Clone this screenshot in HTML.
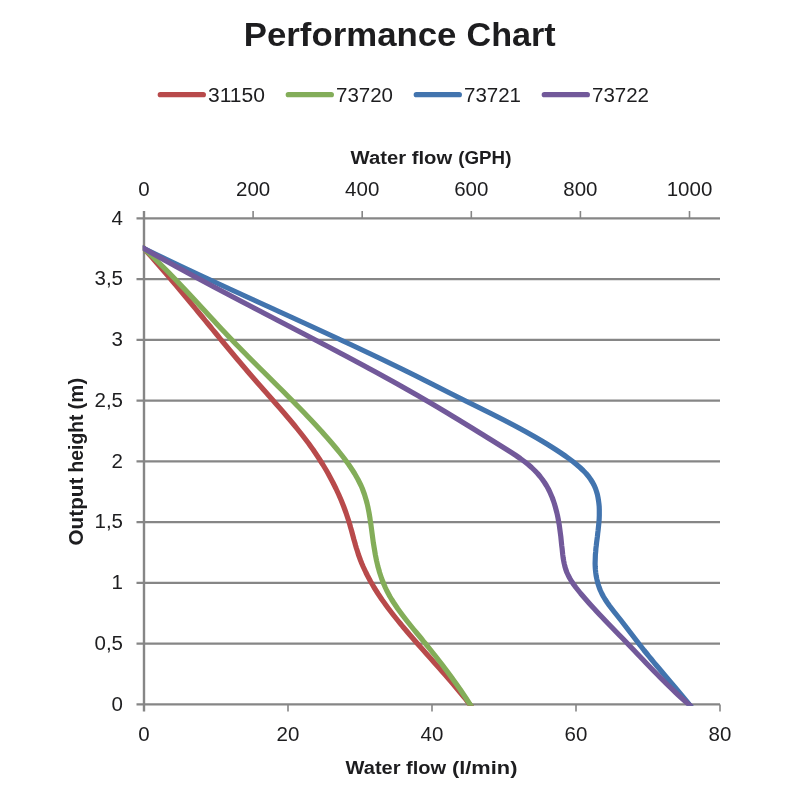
<!DOCTYPE html>
<html><head><meta charset="utf-8"><title>Performance Chart</title>
<style>
html,body{margin:0;padding:0;background:#fff;}
svg{display:block;filter:blur(0.45px);font-family:"Liberation Sans",sans-serif;fill:#1d1d1f;}
.b{font-weight:bold;}
</style></head><body>
<svg width="800" height="800" viewBox="0 0 800 800">
<rect width="800" height="800" fill="#fff"/>
<g stroke="#868686" stroke-width="2.4" fill="none">
<line x1="136.5" y1="218.40" x2="720" y2="218.40"/>
<line x1="136.5" y1="279.15" x2="720" y2="279.15"/>
<line x1="136.5" y1="339.90" x2="720" y2="339.90"/>
<line x1="136.5" y1="400.65" x2="720" y2="400.65"/>
<line x1="136.5" y1="461.40" x2="720" y2="461.40"/>
<line x1="136.5" y1="522.15" x2="720" y2="522.15"/>
<line x1="136.5" y1="582.90" x2="720" y2="582.90"/>
<line x1="136.5" y1="643.65" x2="720" y2="643.65"/>
<line x1="136.5" y1="704.40" x2="720" y2="704.40"/>
<line x1="144" y1="211" x2="144" y2="711.5"/>
</g>
<g stroke="#868686" stroke-width="1.6" fill="none">
<line x1="253.10" y1="211" x2="253.10" y2="218.4"/>
<line x1="362.20" y1="211" x2="362.20" y2="218.4"/>
<line x1="471.30" y1="211" x2="471.30" y2="218.4"/>
<line x1="580.40" y1="211" x2="580.40" y2="218.4"/>
<line x1="689.50" y1="211" x2="689.50" y2="218.4"/>
<line x1="288.00" y1="704.4" x2="288.00" y2="711.5"/>
<line x1="432.00" y1="704.4" x2="432.00" y2="711.5"/>
<line x1="576.00" y1="704.4" x2="576.00" y2="711.5"/>
<line x1="720.00" y1="704.4" x2="720.00" y2="711.5"/>
</g>
<defs><clipPath id="pa"><rect x="142.8" y="200" width="600" height="505.7"/></clipPath></defs>
<g fill="none" stroke-width="5.2" stroke-linecap="butt" stroke-linejoin="round" clip-path="url(#pa)">
<path stroke="#b84a4b" d="M142.0,246.3 L144.0,248.5 L146.7,251.5 L149.4,254.5 L152.1,257.5 L154.7,260.5 L157.3,263.5 L159.9,266.5 L162.5,269.5 L165.1,272.5 L167.7,275.5 L170.3,278.5 L172.8,281.5 L175.4,284.5 L177.9,287.5 L180.4,290.5 L182.9,293.5 L185.4,296.5 L187.9,299.5 L190.4,302.5 L192.9,305.5 L195.3,308.5 L197.8,311.5 L200.3,314.5 L202.8,317.5 L205.2,320.5 L207.7,323.5 L210.2,326.5 L212.6,329.5 L215.1,332.5 L217.6,335.5 L220.0,338.5 L222.5,341.5 L225.0,344.5 L227.5,347.5 L230.0,350.5 L232.5,353.5 L235.0,356.5 L237.5,359.5 L240.1,362.5 L242.6,365.5 L245.2,368.5 L247.7,371.5 L250.3,374.5 L252.9,377.5 L255.5,380.5 L258.1,383.5 L260.8,386.5 L263.4,389.5 L266.1,392.5 L268.7,395.5 L271.4,398.5 L274.0,401.5 L276.6,404.5 L279.3,407.5 L281.9,410.5 L284.5,413.5 L287.0,416.5 L289.6,419.5 L292.1,422.5 L294.6,425.5 L297.0,428.5 L299.4,431.5 L301.8,434.5 L304.1,437.5 L306.4,440.5 L308.7,443.5 L310.8,446.5 L313.0,449.5 L315.0,452.5 L317.0,455.5 L319.0,458.5 L320.9,461.5 L322.8,464.5 L324.6,467.5 L326.4,470.5 L328.1,473.5 L329.7,476.5 L331.3,479.5 L332.9,482.5 L334.4,485.5 L335.9,488.5 L337.3,491.5 L338.7,494.5 L340.0,497.5 L341.3,500.5 L342.5,503.5 L343.7,506.5 L344.8,509.5 L345.9,512.5 L346.9,515.5 L347.9,518.5 L348.9,521.5 L349.8,524.5 L350.6,527.5 L351.5,530.5 L352.3,533.5 L353.1,536.5 L353.9,539.5 L354.8,542.5 L355.6,545.5 L356.5,548.5 L357.5,551.5 L358.4,554.5 L359.5,557.5 L360.6,560.5 L361.8,563.5 L363.1,566.5 L364.5,569.5 L365.9,572.5 L367.4,575.5 L369.0,578.5 L370.6,581.5 L372.4,584.5 L374.1,587.5 L376.0,590.5 L377.9,593.5 L379.9,596.5 L381.9,599.5 L384.1,602.5 L386.2,605.5 L388.4,608.5 L390.7,611.5 L393.0,614.5 L395.4,617.5 L397.8,620.5 L400.3,623.5 L402.7,626.5 L405.3,629.5 L407.8,632.5 L410.4,635.5 L413.0,638.5 L415.6,641.5 L418.2,644.5 L420.9,647.5 L423.6,650.5 L426.2,653.5 L428.9,656.5 L431.6,659.5 L434.2,662.5 L436.9,665.5 L439.6,668.5 L442.2,671.5 L444.9,674.5 L447.5,677.5 L450.1,680.5 L452.7,683.5 L455.2,686.5 L457.7,689.5 L460.2,692.5 L462.7,695.5 L465.1,698.5 L467.4,701.5 L469.7,704.4 L472.1,707.6"/>
<path stroke="#83ad59" d="M141.8,246.5 L144.0,248.5 L147.2,251.5 L150.4,254.5 L153.5,257.5 L156.6,260.5 L159.7,263.5 L162.7,266.5 L165.7,269.5 L168.7,272.5 L171.6,275.5 L174.5,278.5 L177.4,281.5 L180.2,284.5 L183.1,287.5 L185.9,290.5 L188.7,293.5 L191.5,296.5 L194.3,299.5 L197.1,302.5 L199.8,305.5 L202.6,308.5 L205.4,311.5 L208.1,314.5 L210.9,317.5 L213.7,320.5 L216.4,323.5 L219.2,326.5 L222.0,329.5 L224.9,332.5 L227.7,335.5 L230.6,338.5 L233.4,341.5 L236.3,344.5 L239.3,347.5 L242.2,350.5 L245.2,353.5 L248.1,356.5 L251.1,359.5 L254.1,362.5 L257.1,365.5 L260.1,368.5 L263.2,371.5 L266.2,374.5 L269.2,377.5 L272.2,380.5 L275.2,383.5 L278.2,386.5 L281.3,389.5 L284.3,392.5 L287.2,395.5 L290.2,398.5 L293.2,401.5 L296.1,404.5 L299.1,407.5 L302.0,410.5 L304.9,413.5 L307.7,416.5 L310.6,419.5 L313.4,422.5 L316.2,425.5 L318.9,428.5 L321.7,431.5 L324.3,434.5 L327.0,437.5 L329.6,440.5 L332.2,443.5 L334.7,446.5 L337.2,449.5 L339.6,452.5 L342.0,455.5 L344.3,458.5 L346.5,461.5 L348.7,464.5 L350.7,467.5 L352.7,470.5 L354.6,473.5 L356.3,476.5 L358.0,479.5 L359.5,482.5 L361.0,485.5 L362.3,488.5 L363.4,491.5 L364.5,494.5 L365.4,497.5 L366.3,500.5 L367.1,503.5 L367.8,506.5 L368.4,509.5 L369.0,512.5 L369.5,515.5 L370.0,518.5 L370.4,521.5 L370.9,524.5 L371.3,527.5 L371.7,530.5 L372.1,533.5 L372.5,536.5 L372.9,539.5 L373.3,542.5 L373.8,545.5 L374.3,548.5 L374.8,551.5 L375.3,554.5 L375.9,557.5 L376.5,560.5 L377.2,563.5 L377.9,566.5 L378.8,569.5 L379.6,572.5 L380.6,575.5 L381.6,578.5 L382.8,581.5 L384.0,584.5 L385.3,587.5 L386.7,590.5 L388.3,593.5 L389.9,596.5 L391.7,599.5 L393.6,602.5 L395.6,605.5 L397.6,608.5 L399.8,611.5 L402.0,614.5 L404.3,617.5 L406.6,620.5 L409.0,623.5 L411.4,626.5 L413.8,629.5 L416.3,632.5 L418.8,635.5 L421.3,638.5 L423.7,641.5 L426.2,644.5 L428.6,647.5 L431.0,650.5 L433.4,653.5 L435.8,656.5 L438.1,659.5 L440.5,662.5 L442.8,665.5 L445.0,668.5 L447.3,671.5 L449.5,674.5 L451.7,677.5 L453.8,680.5 L456.0,683.5 L458.1,686.5 L460.2,689.5 L462.2,692.5 L464.2,695.5 L466.2,698.5 L468.1,701.5 L470.0,704.4 L472.1,707.8"/>
<path stroke="#4274ae" d="M141.3,247.2 L144.0,248.5 L150.1,251.5 L156.3,254.5 L162.6,257.5 L168.8,260.5 L175.1,263.5 L181.4,266.5 L187.8,269.5 L194.2,272.5 L200.6,275.5 L207.1,278.5 L213.5,281.5 L220.0,284.5 L226.5,287.5 L233.0,290.5 L239.6,293.5 L246.1,296.5 L252.7,299.5 L259.2,302.5 L265.8,305.5 L272.4,308.5 L278.9,311.5 L285.5,314.5 L292.1,317.5 L298.6,320.5 L305.2,323.5 L311.7,326.5 L318.2,329.5 L324.7,332.5 L331.2,335.5 L337.7,338.5 L344.1,341.5 L350.6,344.5 L357.0,347.5 L363.3,350.5 L369.7,353.5 L376.0,356.5 L382.3,359.5 L388.5,362.5 L394.7,365.5 L400.9,368.5 L407.0,371.5 L413.1,374.5 L419.1,377.5 L425.0,380.5 L431.0,383.5 L436.9,386.5 L442.8,389.5 L448.7,392.5 L454.7,395.5 L460.7,398.5 L466.7,401.5 L472.8,404.5 L478.9,407.5 L484.9,410.5 L491.0,413.5 L496.9,416.5 L502.8,419.5 L508.6,422.5 L514.3,425.5 L519.9,428.5 L525.4,431.5 L530.7,434.5 L536.0,437.5 L541.1,440.5 L546.1,443.5 L550.9,446.5 L555.6,449.5 L560.2,452.5 L564.6,455.5 L568.8,458.5 L572.8,461.5 L576.5,464.5 L580.0,467.5 L583.2,470.5 L586.1,473.5 L588.6,476.5 L590.7,479.5 L592.6,482.5 L594.2,485.5 L595.5,488.5 L596.5,491.5 L597.4,494.5 L598.0,497.5 L598.5,500.5 L598.9,503.5 L599.2,506.5 L599.3,509.5 L599.3,512.5 L599.3,515.5 L599.2,518.5 L599.0,521.5 L598.7,524.5 L598.4,527.5 L598.1,530.5 L597.7,533.5 L597.4,536.5 L597.0,539.5 L596.6,542.5 L596.3,545.5 L595.9,548.5 L595.7,551.5 L595.4,554.5 L595.3,557.5 L595.2,560.5 L595.1,563.5 L595.2,566.5 L595.4,569.5 L595.7,572.5 L596.1,575.5 L596.7,578.5 L597.4,581.5 L598.2,584.5 L599.2,587.5 L600.4,590.5 L601.8,593.5 L603.4,596.5 L605.2,599.5 L607.2,602.5 L609.3,605.5 L611.6,608.5 L613.9,611.5 L616.3,614.5 L618.7,617.5 L621.1,620.5 L623.4,623.5 L625.7,626.5 L628.0,629.5 L630.3,632.5 L632.6,635.5 L634.9,638.5 L637.2,641.5 L639.5,644.5 L641.9,647.5 L644.2,650.5 L646.7,653.5 L649.1,656.5 L651.6,659.5 L654.0,662.5 L656.5,665.5 L659.1,668.5 L661.6,671.5 L664.1,674.5 L666.6,677.5 L669.2,680.5 L671.7,683.5 L674.3,686.5 L676.8,689.5 L679.3,692.5 L681.8,695.5 L684.3,698.5 L686.8,701.5 L689.2,704.4 L691.7,707.5"/>
<path stroke="#72599a" d="M141.4,247.0 L144.0,248.5 L149.2,251.5 L154.5,254.5 L159.9,257.5 L165.2,260.5 L170.7,263.5 L176.1,266.5 L181.6,269.5 L187.1,272.5 L192.6,275.5 L198.2,278.5 L203.8,281.5 L209.4,284.5 L215.0,287.5 L220.7,290.5 L226.4,293.5 L232.1,296.5 L237.8,299.5 L243.5,302.5 L249.3,305.5 L255.0,308.5 L260.8,311.5 L266.5,314.5 L272.3,317.5 L278.0,320.5 L283.8,323.5 L289.6,326.5 L295.3,329.5 L301.1,332.5 L306.9,335.5 L312.6,338.5 L318.3,341.5 L324.0,344.5 L329.8,347.5 L335.4,350.5 L341.1,353.5 L346.8,356.5 L352.4,359.5 L358.0,362.5 L363.6,365.5 L369.1,368.5 L374.7,371.5 L380.2,374.5 L385.6,377.5 L391.1,380.5 L396.5,383.5 L401.8,386.5 L407.1,389.5 L412.4,392.5 L417.7,395.5 L422.8,398.5 L428.0,401.5 L433.1,404.5 L438.2,407.5 L443.2,410.5 L448.2,413.5 L453.1,416.5 L458.1,419.5 L463.0,422.5 L467.9,425.5 L472.8,428.5 L477.6,431.5 L482.5,434.5 L487.3,437.5 L492.2,440.5 L497.0,443.5 L501.8,446.5 L506.6,449.5 L511.4,452.5 L516.0,455.5 L520.3,458.5 L524.4,461.5 L528.2,464.5 L531.6,467.5 L534.7,470.5 L537.6,473.5 L540.1,476.5 L542.4,479.5 L544.5,482.5 L546.4,485.5 L548.1,488.5 L549.6,491.5 L550.9,494.5 L552.2,497.5 L553.3,500.5 L554.3,503.5 L555.2,506.5 L556.0,509.5 L556.8,512.5 L557.5,515.5 L558.1,518.5 L558.6,521.5 L559.2,524.5 L559.6,527.5 L560.0,530.5 L560.4,533.5 L560.8,536.5 L561.1,539.5 L561.4,542.5 L561.7,545.5 L562.1,548.5 L562.4,551.5 L562.7,554.5 L563.1,557.5 L563.6,560.5 L564.2,563.5 L564.9,566.5 L565.8,569.5 L566.9,572.5 L568.3,575.5 L569.9,578.5 L571.7,581.5 L573.7,584.5 L575.9,587.5 L578.3,590.5 L580.7,593.5 L583.3,596.5 L585.9,599.5 L588.5,602.5 L591.2,605.5 L594.0,608.5 L596.7,611.5 L599.5,614.5 L602.4,617.5 L605.2,620.5 L608.1,623.5 L611.0,626.5 L613.9,629.5 L616.8,632.5 L619.7,635.5 L622.7,638.5 L625.6,641.5 L628.4,644.5 L631.3,647.5 L634.2,650.5 L637.0,653.5 L639.9,656.5 L642.8,659.5 L645.6,662.5 L648.5,665.5 L651.4,668.5 L654.3,671.5 L657.3,674.5 L660.2,677.5 L663.2,680.5 L666.2,683.5 L669.3,686.5 L672.4,689.5 L675.6,692.5 L678.8,695.5 L682.1,698.5 L685.5,701.5 L688.8,704.4 L691.8,707.0"/>
</g>
<g fill="none" stroke-width="5.3" stroke-linecap="round">
<line stroke="#b84a4b" x1="160.3" y1="94.7" x2="203.3" y2="94.7"/>
<line stroke="#83ad59" x1="288.3" y1="94.7" x2="331.3" y2="94.7"/>
<line stroke="#4274ae" x1="416.3" y1="94.7" x2="459.3" y2="94.7"/>
<line stroke="#72599a" x1="544.3" y1="94.7" x2="587.3" y2="94.7"/>
</g>
<g font-size="20.5">
<text x="208" y="101.5" textLength="57" lengthAdjust="spacingAndGlyphs">31150</text>
<text x="336" y="101.5">73720</text>
<text x="464" y="101.5">73721</text>
<text x="592" y="101.5">73722</text>
<text x="144.0" y="195.7" text-anchor="middle">0</text>
<text x="253.1" y="195.7" text-anchor="middle">200</text>
<text x="362.2" y="195.7" text-anchor="middle">400</text>
<text x="471.3" y="195.7" text-anchor="middle">600</text>
<text x="580.4" y="195.7" text-anchor="middle">800</text>
<text x="689.5" y="195.7" text-anchor="middle">1000</text>
<text x="144.0" y="740.8" text-anchor="middle">0</text>
<text x="288.0" y="740.8" text-anchor="middle">20</text>
<text x="432.0" y="740.8" text-anchor="middle">40</text>
<text x="576.0" y="740.8" text-anchor="middle">60</text>
<text x="720.0" y="740.8" text-anchor="middle">80</text>
<text x="123" y="224.7" text-anchor="end">4</text>
<text x="123" y="285.4" text-anchor="end">3,5</text>
<text x="123" y="346.2" text-anchor="end">3</text>
<text x="123" y="406.9" text-anchor="end">2,5</text>
<text x="123" y="467.7" text-anchor="end">2</text>
<text x="123" y="528.4" text-anchor="end">1,5</text>
<text x="123" y="589.2" text-anchor="end">1</text>
<text x="123" y="649.9" text-anchor="end">0,5</text>
<text x="123" y="710.7" text-anchor="end">0</text>
</g>
<text class="b" y="45.7" font-size="33.5"><tspan x="243.8" textLength="212.6" lengthAdjust="spacingAndGlyphs">Performance</tspan> <tspan x="466.5" textLength="89.2" lengthAdjust="spacingAndGlyphs">Chart</tspan></text>
<text class="b" y="163.8" font-size="18.8"><tspan x="350.6" textLength="101.6" lengthAdjust="spacingAndGlyphs">Water flow</tspan> <tspan x="458.3" textLength="53.1" lengthAdjust="spacingAndGlyphs">(GPH)</tspan></text>
<text class="b" y="773.6" font-size="18.8"><tspan x="345.6" textLength="100.6" lengthAdjust="spacingAndGlyphs">Water flow</tspan> <tspan x="452" textLength="65.4" lengthAdjust="spacingAndGlyphs">(l/min)</tspan></text>
<text class="b" font-size="21" transform="translate(82.5,545.5) rotate(-90)"><tspan x="0" textLength="67.9" lengthAdjust="spacingAndGlyphs">Output</tspan> <tspan x="73.1" textLength="57.8" lengthAdjust="spacingAndGlyphs">height</tspan> <tspan x="136.1" textLength="31.6" lengthAdjust="spacingAndGlyphs">(m)</tspan></text>
</svg></body></html>
